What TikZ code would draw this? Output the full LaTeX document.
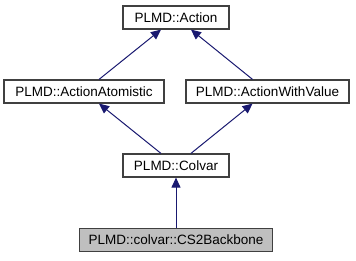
\documentclass[tikz,border=0pt]{standalone}
\usepackage{fontspec}
\setmainfont{Liberation Sans}
\usepackage{tikz}
\usetikzlibrary{arrows.meta}
\usepackage{xcolor}

\definecolor{edgeblue}{HTML}{191970}
\definecolor{boxline}{HTML}{404040}
\definecolor{boxgrey}{HTML}{BFBFBF}

\tikzset{
    cls/.style={draw=boxline, line width=1.2pt, fill=white, minimum height=23pt,
        inner sep=0pt, font=\fontsize{13.5}{16}\selectfont},
    inherit/.style={draw=edgeblue, line width=1pt,
        -{Triangle[length=10pt, width=9pt]}}
}

\begin{document}
\begin{tikzpicture}[x=1pt, y=-1pt]
        \useasboundingbox (0, 0) rectangle (356, 261);
        % Base class
        \node (action) [cls, minimum width=106pt] at (176, 17.5) {PLMD::Action};
        % Second row
        \node (atomistic) [cls, minimum width=160pt] at (84, 91.5) {PLMD::ActionAtomistic};
        \node (withvalue) [cls, minimum width=163pt] at (267.5, 91.5) {PLMD::ActionWithValue};
        % Colvar
        \node (colvar) [cls, minimum width=106pt] at (176, 165.5) {PLMD::Colvar};
        % Leaf class
        \node (backbone) [cls, fill=boxgrey, minimum width=193pt] at (176, 240) {PLMD::colvar::CS2Backbone};
        % Inheritance
        \draw [inherit] (atomistic) -- (action);
        \draw [inherit] (withvalue) -- (action);
        \draw [inherit] (colvar) -- (atomistic);
        \draw [inherit] (colvar) -- (withvalue);
        \draw [inherit] (backbone) -- (colvar);
    \end{tikzpicture}
\end{document}
